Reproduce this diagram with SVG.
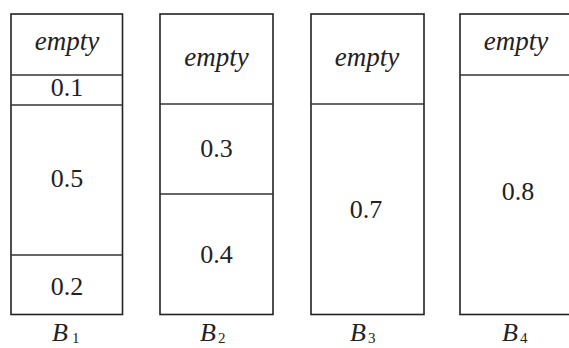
<svg xmlns="http://www.w3.org/2000/svg" width="569" height="348" viewBox="0 0 569 348">
<style>
.box{fill:#fff;stroke:#222;stroke-width:1.6}
.div{stroke:#333;stroke-width:1.6}
.t{font-family:"Liberation Serif",serif;font-size:26px;fill:#222;text-anchor:middle}
.e{font-style:italic;font-size:27px}
.b{font-family:"Liberation Serif",serif;font-style:italic;font-size:26px;fill:#222}
.s{font-size:15px;font-style:normal}
</style>
<rect width="569" height="348" fill="#fff"/>
<g id="bin1">
<rect class="box" x="11" y="14" width="111.5" height="300.5"/>
<line class="div" x1="11" y1="75" x2="122.5" y2="75"/>
<line class="div" x1="11" y1="105" x2="122.5" y2="105"/>
<line class="div" x1="11" y1="255" x2="122.5" y2="255"/>
<text class="t e" x="67" y="50">empty</text>
<text class="t" x="67" y="96">0.1</text>
<text class="t" x="67" y="187">0.5</text>
<text class="t" x="67" y="295">0.2</text>
<text class="b" x="52" y="341">B<tspan class="s" dx="4" dy="2">1</tspan></text>
</g>
<g id="bin2">
<rect class="box" x="160" y="14" width="113" height="300.5"/>
<line class="div" x1="160" y1="104" x2="273" y2="104"/>
<line class="div" x1="160" y1="194" x2="273" y2="194"/>
<text class="t e" x="216.5" y="66">empty</text>
<text class="t" x="216.5" y="157">0.3</text>
<text class="t" x="216.5" y="263">0.4</text>
<text class="b" x="200" y="341">B<tspan class="s" dx="2" dy="2">2</tspan></text>
</g>
<g id="bin3">
<rect class="box" x="311" y="14" width="113" height="300.5"/>
<line class="div" x1="311" y1="104" x2="424" y2="104"/>
<text class="t e" x="367" y="66">empty</text>
<text class="t" x="366" y="218">0.7</text>
<text class="b" x="350" y="341">B<tspan class="s" dx="2" dy="2">3</tspan></text>
</g>
<g id="bin4">
<rect class="box" x="460" y="14" width="120" height="300.5"/>
<line class="div" x1="460" y1="75" x2="580" y2="75"/>
<text class="t e" x="516" y="50">empty</text>
<text class="t" x="518" y="200">0.8</text>
<text class="b" x="502" y="341">B<tspan class="s" dx="2" dy="2">4</tspan></text>
</g>
<g id="connectors"/>
</svg>
